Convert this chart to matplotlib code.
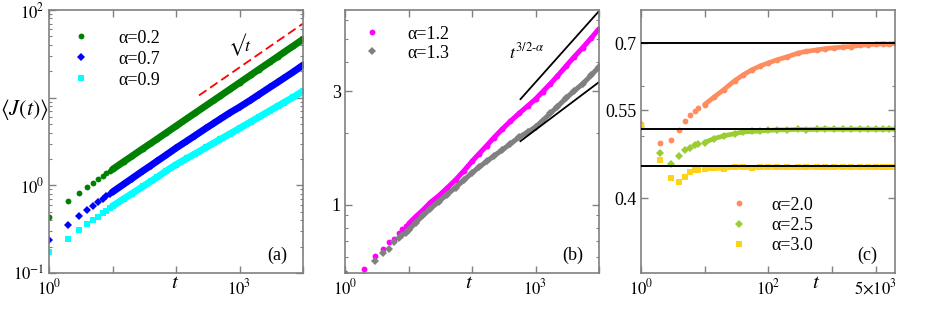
import numpy as np
import matplotlib
matplotlib.use("Agg")
import matplotlib.pyplot as plt
from matplotlib.ticker import NullLocator, FixedLocator

plt.rcParams['font.family'] = ['Liberation Serif', 'DejaVu Serif']
plt.rcParams['mathtext.fontset'] = 'stix'

# --- DATA: panel (a) ---
t_a = [1, 2, 3, 4, 5, 6, 7, 8, 9, 10, 15, 20, 30, 40, 50, 70, 100, 150, 200, 300,
       400, 500, 700, 1000, 1500, 2000, 3000, 4000, 5000, 7000, 10000]
j_02 = [0.44, 0.657, 0.826, 0.956, 1.07, 1.18, 1.28, 1.37, 1.45, 1.52, 1.86, 2.14, 2.62,
        3.01, 3.36, 3.97, 4.74, 5.8, 6.68, 8.16, 9.4, 10.5, 12.4, 14.8, 18.1, 20.9,
        25.5, 29.4, 32.9, 38.8, 46.3]
j_07 = [0.238, 0.353, 0.443, 0.523, 0.581, 0.64, 0.692, 0.755, 0.80, 0.84, 1.03, 1.19,
        1.46, 1.68, 1.88, 2.22, 2.66, 3.22, 3.7, 4.5, 5.15, 5.72, 6.7, 7.8, 9.4, 10.8,
        13.1, 15.0, 16.7, 19.6, 23.5]
j_09 = [0.174, 0.247, 0.309, 0.362, 0.402, 0.44, 0.48, 0.515, 0.55, 0.58, 0.70, 0.80,
        0.97, 1.11, 1.23, 1.46, 1.72, 2.04, 2.29, 2.71, 3.06, 3.36, 3.85, 4.47, 5.3,
        5.98, 7.1, 8.0, 8.8, 10.1, 11.9]
sqrt_t = [230, 10000]
sqrt_j = [10.6, 70]

# --- DATA: panel (b) ---
t_b = [1, 2, 3, 4, 5, 6, 7, 8, 9, 10, 13, 17, 22, 30, 40, 55, 75, 100, 130, 170, 220,
       300, 400, 550, 750, 1000, 1300, 1700, 2200, 3000, 4000, 5500, 7500, 10000]
j_12 = [0.514, 0.537, 0.609, 0.648, 0.695, 0.714, 0.762, 0.792, 0.81, 0.83, 0.89, 0.95,
        1.02, 1.09, 1.17, 1.27, 1.39, 1.52, 1.64, 1.77, 1.91, 2.08, 2.24, 2.42, 2.6, 2.78,
        2.99, 3.22, 3.47, 3.82, 4.17, 4.57, 5.02, 5.5]
j_13 = [0.47, 0.50, 0.58, 0.625, 0.652, 0.695, 0.723, 0.745, 0.762, 0.78, 0.84, 0.9,
        0.96, 1.03, 1.1, 1.18, 1.27, 1.36, 1.44, 1.52, 1.6, 1.7, 1.8, 1.92, 2.02, 2.12,
        2.26, 2.42, 2.58, 2.8, 3.0, 3.22, 3.5, 3.8]
guide_t = [580, 10000]
guide_hi = [2.78, 6.53]
guide_lo = [1.85, 3.28]

# --- DATA: panel (c) ---
t_c = [1, 2, 3, 4, 5, 6, 7, 8, 10, 14, 20, 30, 40, 55, 75, 100, 140, 200, 300, 400,
       600, 800, 1100, 1500, 2000, 2800, 3800, 5000, 6500, 8000, 10000]
j_20 = [0.523, 0.488, 0.494, 0.512, 0.528, 0.541, 0.549, 0.554, 0.561, 0.576, 0.592,
        0.612, 0.624, 0.636, 0.645, 0.652, 0.66, 0.667, 0.676, 0.68, 0.684, 0.687,
        0.689, 0.691, 0.692, 0.695, 0.697, 0.698, 0.699, 0.698, 0.700]
j_25 = [0.518, 0.471, 0.452, 0.466, 0.476, 0.48, 0.485, 0.487, 0.489, 0.496, 0.501,
        0.505, 0.508, 0.509, 0.51, 0.511, 0.512, 0.512, 0.513, 0.5125, 0.513, 0.5135,
        0.513, 0.5132, 0.513, 0.5135, 0.513, 0.5132, 0.513, 0.5135, 0.513]
j_30 = [0.52, 0.459, 0.43, 0.4246, 0.4324, 0.44, 0.4423, 0.4433, 0.444, 0.446, 0.445,
        0.448, 0.447, 0.4465, 0.447, 0.4475, 0.447, 0.4468, 0.447, 0.4472, 0.447,
        0.4468, 0.447, 0.4473, 0.447, 0.4468, 0.4472, 0.447, 0.4468, 0.447, 0.4472]
plateaus = [0.7, 0.5136, 0.4495]

SPINE = '#808080'
N_SPARSE = 10  # points drawn as separate markers before the curve becomes dense


def style_axes(ax):
    for s in ax.spines.values():
        s.set_color(SPINE)
        s.set_linewidth(1.2)
    ax.tick_params(which='both', direction='in', top=True, right=True,
                   color=SPINE, labelsize=12)
    ax.tick_params(which='major', length=5, width=1, pad=4)
    ax.tick_params(which='minor', length=2.5, width=0.8)
    ax.tick_params(axis='y', pad=3)


def draw_series(ax, t, y, color, marker, ms, lw, n_sparse=N_SPARSE, label=None):
    ax.plot(t[n_sparse - 1:], y[n_sparse - 1:], '-', color=color, lw=lw,
            solid_capstyle='round')
    ax.plot(t, y, linestyle='none', marker=marker, color=color, ms=ms, mew=0,
            label=label)


fig = plt.figure(figsize=(9.26, 3.09), dpi=100)
W, H = 926, 309


def add_axes(x0, x1, y0, y1):
    return fig.add_axes([x0 / W, 1 - y1 / H, (x1 - x0) / W, (y1 - y0) / H])


leg_kw = dict(frameon=False, loc='upper left', numpoints=1, fontsize=13,
              handlelength=1.4, borderpad=0, borderaxespad=0)

# --- PANEL (a) ---
ax = add_axes(49, 303, 10, 273)
ax.set_xscale('log')
ax.set_yscale('log')
draw_series(ax, t_a, j_02, '#008000', 'o', 4.2, 5.0, label='α=0.2')
draw_series(ax, t_a, j_07, '#0000ff', 'D', 3.6, 5.0, label='α=0.7')
draw_series(ax, t_a, j_09, '#00ffff', 's', 3.8, 5.0, label='α=0.9')
ax.plot(sqrt_t, sqrt_j, color='#ff0000', lw=1.3, dashes=(5, 2.5))
ax.set_xlim(1, 1e4)
ax.set_ylim(0.1, 100)
ax.set_xticks([1, 10, 100, 1000, 10000])
ax.set_xticklabels([r'$10^0$', '', '', r'$10^3$', ''])
ax.xaxis.set_minor_locator(NullLocator())
ax.set_yticks([0.1, 1, 10, 100])
ax.set_yticklabels([r'$10^{-1}$', r'$10^0$', '', r'$10^2$'])
style_axes(ax)
ax.text(0.495, -0.04, r'$t$', transform=ax.transAxes, fontsize=15, ha='center', va='center')
ax.text(-0.095, 0.62, r'$\langle J(t)\rangle$', transform=ax.transAxes, fontsize=16,
        ha='center', va='center')
ax.text(0.752, 0.867, '$\u221a t$', transform=ax.transAxes, fontsize=13, ha='center', va='center')
ax.text(0.898, 0.068, '(a)', transform=ax.transAxes, fontsize=13, ha='center', va='center')
ax.legend(bbox_to_anchor=(0.075, 0.925), handletextpad=1.4, labelspacing=0.22, **leg_kw)

# --- PANEL (b) ---
ax = add_axes(345, 599, 10, 273)
ax.set_xscale('log')
ax.set_yscale('log')
draw_series(ax, t_b, j_12, '#ff00ff', 'o', 4.2, 3.6, label='α=1.2')
draw_series(ax, t_b, j_13, '#808080', 'D', 3.6, 3.6, label='α=1.3')
ax.plot(guide_t, guide_hi, color='black', lw=1.3)
ax.plot(guide_t, guide_lo, color='black', lw=1.3)
ax.set_xlim(1, 1e4)
ax.set_ylim(0.515, 6.6)
ax.set_xticks([1, 10, 100, 1000, 10000])
ax.set_xticklabels([r'$10^0$', '', '', r'$10^3$', ''])
ax.xaxis.set_minor_locator(NullLocator())
ax.set_yticks([1, 3])
ax.set_yticklabels(['1', '3'])
ax.yaxis.set_minor_locator(FixedLocator([0.6, 0.7, 0.8, 0.9, 2, 4, 5, 6]))
ax.yaxis.set_minor_formatter(plt.NullFormatter())
style_axes(ax)
ax.tick_params(axis='y', labelsize=13)
ax.text(0.49, -0.04, r'$t$', transform=ax.transAxes, fontsize=15, ha='center', va='center')
ax.text(0.717, 0.837, r'$t^{3/2\text{-}\alpha}$', transform=ax.transAxes, fontsize=13,
        ha='center', va='center')
ax.text(0.898, 0.068, '(b)', transform=ax.transAxes, fontsize=13, ha='center', va='center')
ax.legend(bbox_to_anchor=(0.055, 0.94), handletextpad=1.3, labelspacing=0.1, **leg_kw)

# --- PANEL (c) ---
ax = add_axes(641, 895, 10, 273)
ax.set_xscale('log')
ax.set_yscale('log')
for p in plateaus:
    ax.axhline(p, color='black', lw=1.4, zorder=3)
draw_series(ax, t_c, j_20, '#ff8c5e', 'o', 4.2, 3.4, n_sparse=9, label='α=2.0')
draw_series(ax, t_c, j_25, '#9acd32', 'D', 3.8, 3.4, n_sparse=9, label='α=2.5')
draw_series(ax, t_c, j_30, '#ffd21a', 's', 3.8, 3.4, n_sparse=9, label='α=3.0')
ax.set_xlim(1, 1e4)
ax.set_ylim(0.305, 0.79)
ax.set_xticks([1, 10, 100, 1000, 5000])
ax.set_xticklabels([r'$10^0$', '', r'$10^2$', '', r'$5{\times}10^3$'])
ax.xaxis.set_minor_locator(NullLocator())
ax.set_yticks([0.4, 0.55, 0.7])
ax.set_yticklabels(['0.4', '0.55', '0.7'])
ax.yaxis.set_minor_locator(FixedLocator([0.5, 0.6]))
ax.yaxis.set_minor_formatter(plt.NullFormatter())
style_axes(ax)
ax.tick_params(axis='y', labelsize=13)
ax.text(0.689, -0.04, r'$t$', transform=ax.transAxes, fontsize=15, ha='center', va='center')
ax.text(0.89, 0.068, '(c)', transform=ax.transAxes, fontsize=13, ha='center', va='center')
ax.legend(bbox_to_anchor=(0.335, 0.29), handletextpad=1.1, labelspacing=0.18, **leg_kw)

fig.savefig('out.png', dpi=100)
